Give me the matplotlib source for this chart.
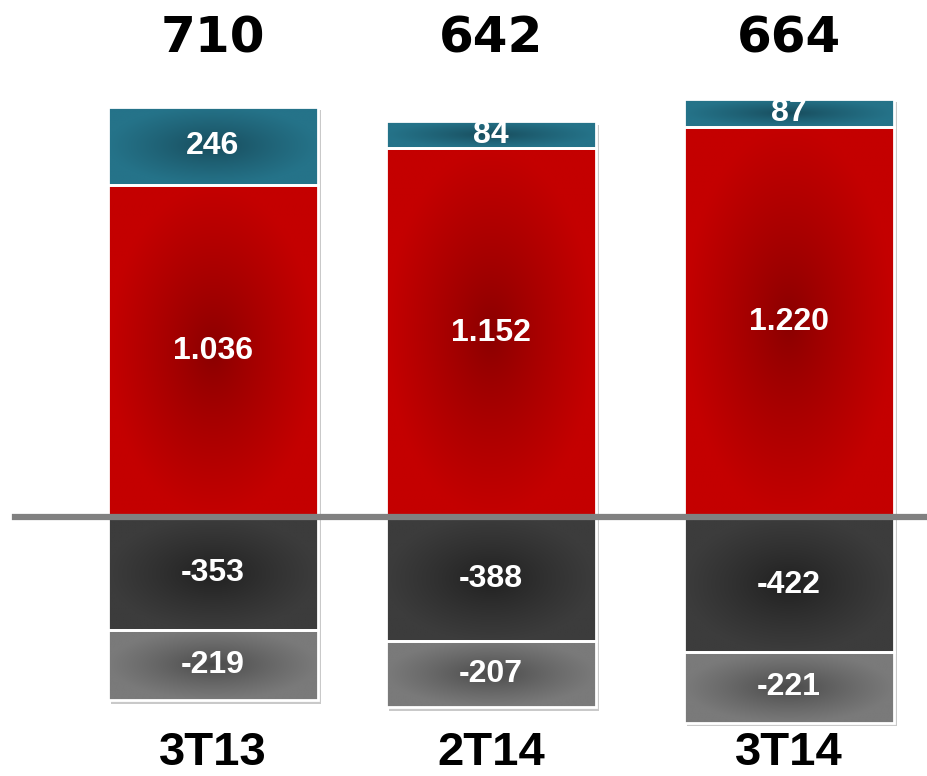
import numpy as np
import matplotlib
matplotlib.use("Agg")
import matplotlib.pyplot as plt
import matplotlib.patheffects as pe
from matplotlib.colors import to_rgb

plt.rcParams["font.family"] = ["Liberation Sans", "DejaVu Sans"]

# dados
categorias = ["3T13", "2T14", "3T14"]
totais = [710, 642, 664]
azul = [246, 84, 87]
vermelho = [1036, 1152, 1220]
cinza_escuro = [-353, -388, -422]
cinza_claro = [-219, -207, -221]

# cores (borda, centro) do degradê radial
cores = {
    "azul": ("#257389", "#174a5a"),
    "vermelho": ("#c40000", "#880000"),
    "cinza_escuro": ("#3c3c3c", "#1f1f1f"),
    "cinza_claro": ("#7a7a7a", "#484848"),
}


def degrade(borda, centro, n=120):
    u = np.linspace(-1, 1, n)
    xx, yy = np.meshgrid(u, u)
    r = np.clip(np.sqrt(xx ** 2 + yy ** 2), 0, 1) ** 0.8
    b = np.array(to_rgb(borda))
    c = np.array(to_rgb(centro))
    return c[None, None, :] * (1 - r[..., None]) + b[None, None, :] * r[..., None]


def fmt(v):
    return f"{v:,}".replace(",", ".")


fig = plt.figure(figsize=(9.28, 7.76), dpi=100)
ax = fig.add_axes([0, 0, 1, 1])
ax.axis("off")

# posições das colunas (em pixels horizontais da figura)
x = np.array([213, 491, 789])
largura = 210

camadas = [
    ("vermelho", vermelho, [0, 0, 0]),
    ("azul", azul, vermelho),
    ("cinza_escuro", cinza_escuro, [0, 0, 0]),
    ("cinza_claro", cinza_claro, cinza_escuro),
]

sombra = [pe.SimplePatchShadow(offset=(2.5, -2.5), shadow_rgbFace="#888888", alpha=0.45), pe.Normal()]

for nome, vals, base in camadas:
    borda, centro = cores[nome]
    barras = ax.bar(x, vals, largura, bottom=base, color=borda, zorder=2, path_effects=sombra)
    img = degrade(borda, centro)
    for rect, v in zip(barras, vals):
        x0, y0 = rect.get_xy()
        w, h = rect.get_width(), rect.get_height()
        im = ax.imshow(img, extent=[x0, x0 + w, min(y0, y0 + h), max(y0, y0 + h)],
                       aspect="auto", origin="lower", interpolation="bilinear", zorder=3)
        im.set_clip_path(rect)
        ax.text(x0 + w / 2, y0 + h / 2, fmt(v), ha="center", va="center",
                color="white", fontsize=23, fontweight="bold", zorder=6)
    ax.bar(x, vals, largura, bottom=base, facecolor="none", edgecolor="white", linewidth=2, zorder=4)

# linha do zero
ax.axhline(0, xmin=15 / 928, xmax=1, color="#808080", linewidth=4.5, zorder=5)

# totais e categorias
for xi, tot, cat in zip(x, totais, categorias):
    ax.text(xi, 0.951, fmt(tot), transform=ax.get_xaxis_transform(), ha="center", va="center",
            fontsize=36, fontweight="bold", color="black", family="DejaVu Sans")
    ax.text(xi, 0.03, cat, transform=ax.get_xaxis_transform(), ha="center", va="center",
            fontsize=34, fontweight="bold", color="black")

s = 0.32
ax.set_xlim(0, 928)
ax.set_ylim(-(776 - 517) / s, 517 / s)

fig.savefig("out.png", dpi=100)
